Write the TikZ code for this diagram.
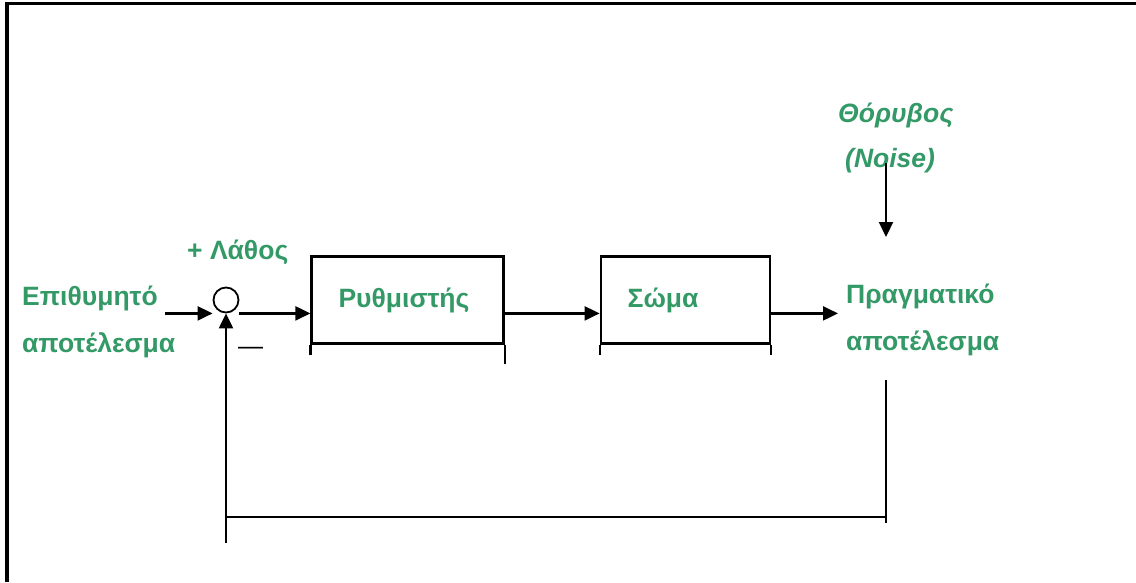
\documentclass[tikz,border=0pt]{standalone}
\usepackage{fontspec}
\setmainfont{Liberation Sans}
\usetikzlibrary{positioning, arrows.meta}
\definecolor{labgreen}{HTML}{339966}

\begin{document}
\begin{tikzpicture}[x=1pt, y=-1pt, node distance=71pt,
  every node/.style={inner sep=0pt},
  lbl/.style={text=labgreen, font=\bfseries\fontsize{26.5}{47}\selectfont, align=left},
  blok/.style={draw, line width=2.2pt, minimum height=87pt, inner xsep=27pt, lbl},
  sig/.style={line width=2.2pt, -{Triangle[length=15pt,width=14pt]}},
  wire/.style={line width=2.2pt}]
  \useasboundingbox (0,0) rectangle (1136,582);
  % frame (top and left only)
  \draw[line width=3.6pt] (7,582) -- (7,3.5) -- (1136,3.5);

  % summing point and the two blocks
  \node[circle, draw, line width=1.8pt, minimum size=25pt] (sum) at (226,300) {};
  \node[blok, text width=138pt, right=71pt of sum] (ctrl) {Ρυθμιστής};
  \node[blok, text width=115pt, right=95pt of ctrl] (plant) {Σώμα};
  \draw[wire] (ctrl.south west) -- ++(0,10);
  \draw[wire] (ctrl.south east) -- ++(0,19);
  \draw[wire] (plant.south west) -- ++(0,10);
  \draw[wire] (plant.south east) -- ++(0,10);

  % labels (base = last line)
  \node[lbl, anchor=base west] (ref) at (22,352) {Επιθυμητό\\αποτέλεσμα};
  \node[lbl, anchor=base west] (out) at (846,350) {Πραγματικό\\αποτέλεσμα};
  \node[lbl, anchor=base west] (err) at (187,259) {+ Λάθος};
  \node[font=\fontsize{25}{30}\selectfont, anchor=base west] (minus) at (238,354) {—};
  \node[lbl, font=\bfseries\itshape\fontsize{26.5}{45}\selectfont, anchor=base west] (noise) at (838,167) {Θόρυβος\\\hspace*{7pt}(Noise)};

  % signal line
  \coordinate (j) at (sum.south);
  \draw[sig] (165,0 |- j) -- (sum.west |- j);
  \draw[sig] (sum.east |- j) -- (ctrl.west |- j);
  \draw[sig] (ctrl.east |- j) -- (plant.west |- j);
  \draw[sig] (plant.east |- j) -- ([xshift=-8pt]out.west |- j);

  % noise input
  \coordinate (nz) at (886,237);
  \draw[sig] (nz |- 0,163) -- (nz);

  % feedback path
  \coordinate (tap) at (886,380);
  \coordinate (fbR) at (886,517);
  \draw[wire] (tap) -- ++(0,143);
  \draw[wire] (fbR) -- (fbR -| sum);
  \draw[sig] (sum |- 0,543) -- (sum.south);
\end{tikzpicture}
\end{document}
